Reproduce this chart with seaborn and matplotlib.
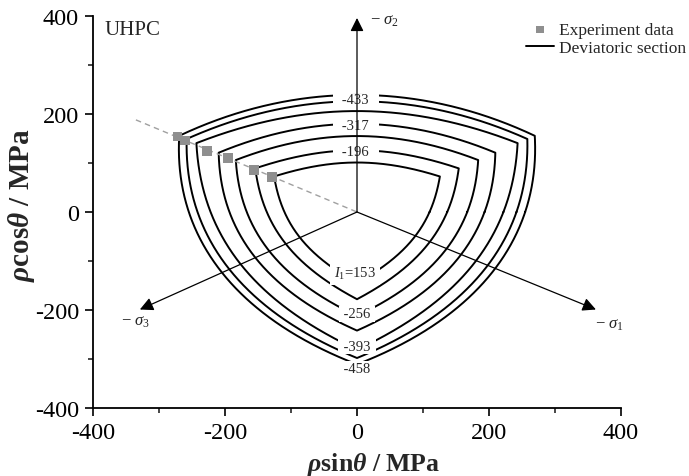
import numpy as np
import pandas as pd
import matplotlib
matplotlib.use("Agg")
import matplotlib.pyplot as plt
from matplotlib.ticker import MultipleLocator
import seaborn as sns

# ---- data ----
levels = [153, -196, -256, -317, -393, -433, -458]          # I1 of each section
r_tension = [101, 126, 155, 180, 206, 226, 239]            # radius on tension meridian
r_compression = [145, 178, 212, 242, 281, 298, 311]        # radius on compression meridian

exp_x = [-272, -261, -227, -195, -156, -129]
exp_y = [154, 146, 125, 110, 86, 72]

label_text = ["$\\mathit{I}_1$=153", "   -196   ", " -256 ", "   -317   ", " -393 ", "   -433   ", " -458 "]
label_x = [-3, -2, 0, -2, 0, -2, 0]
label_y = [-124, 123, -208, 177, -274, 229, -320]

xticks = [-400, -200, 0, 200, 400]
yticks = [-400, -200, 0, 200, 400]

axis_tips = {"$-\\ \\sigma_2$": (0, 396), "$-\\ \\sigma_3$": (-329, -199), "$-\\ \\sigma_1$": (362, -199)}
axis_label_pos = {"$-\\ \\sigma_2$": (42, 392), "$-\\ \\sigma_3$": (-336, -223), "$-\\ \\sigma_1$": (382, -228)}

# ---- style ----
sns.set_theme(style="ticks")
plt.rcParams["font.family"] = ["Liberation Serif", "DejaVu Serif"]
plt.rcParams["mathtext.fontset"] = "custom"
plt.rcParams["mathtext.rm"] = "Liberation Serif"
plt.rcParams["mathtext.it"] = "Liberation Serif:italic"
plt.rcParams["mathtext.bf"] = "Liberation Serif:bold"
plt.rcParams["mathtext.bfit"] = "Liberation Serif:bold:italic"


def section_radius(theta, rt, rc):
    # deviatoric trace with a max-principal-stress term: 1/rho = a + b cos(theta)
    b = 2.0 * (1.0 / rt - 1.0 / rc)
    a = 1.0 / rt - b
    return 1.0 / (a + b * np.cos(theta))


phi = np.deg2rad(np.linspace(0, 360, 1441))
lode = np.mod(np.rad2deg(phi) - 90, 120)
lode = np.deg2rad(np.where(lode > 60, 120 - lode, lode))

rows = []
for lev, rt, rc in zip(levels, r_tension, r_compression):
    r = section_radius(lode, rt, rc)
    for i, (xx, yy) in enumerate(zip(r * np.cos(phi), r * np.sin(phi))):
        rows.append((lev, i, xx, yy))
df = pd.DataFrame(rows, columns=["level", "order", "x", "y"])

fig = plt.figure(figsize=(6.89, 4.77), dpi=100)
ax = fig.add_axes([93 / 689, 1 - 409 / 477, 528 / 689, 392 / 477])

first = True
for lev in levels:
    sub = df[df["level"] == lev]
    sns.lineplot(data=sub, x="x", y="y", sort=False, estimator=None, errorbar=None, color="black",
                 lw=1.4, ax=ax, label="Deviatoric section" if first else "_nolegend_", zorder=2)
    first = False

# dashed compression meridian line
ax.plot([exp_x[0] - 63, 0], [exp_y[0] + 34, 0], ls=(0, (4, 3)), color="#a0a0a0", lw=1.0, zorder=2.5)

sns.scatterplot(x=exp_x, y=exp_y, marker="s", color="#8f8f8f", s=48, edgecolor="none",
                ax=ax, label="Experiment data", zorder=3)

for t, xx, yy in zip(label_text, label_x, label_y):
    pad = 0.3 if t.startswith("$") else (0.1 if yy < 0 else -0.08)
    ax.text(xx, yy, t, ha="center", va="center", fontsize=10.5, zorder=4,
            bbox=dict(facecolor="white", edgecolor="none", boxstyle=f"square,pad={pad}"))

for key, tip in axis_tips.items():
    ax.annotate("", xy=tip, xytext=(0, 0),
                arrowprops=dict(arrowstyle="-|>", color="black", lw=0.9, mutation_scale=20,
                                shrinkA=0, shrinkB=0), zorder=5)
    lx, ly = axis_label_pos[key]
    ax.text(lx, ly, key, ha="center", va="center", fontsize=12, zorder=5)

ax.text(-382, 373, "UHPC", ha="left", va="center", fontsize=15)

ax.set_xlim(-400, 400)
ax.set_ylim(-400, 400)
ax.set_xticks(xticks)
ax.set_yticks(yticks)
ax.set_xticklabels([str(v) for v in xticks])
ax.set_yticklabels([str(v) for v in yticks])
ax.xaxis.set_minor_locator(MultipleLocator(100))
ax.yaxis.set_minor_locator(MultipleLocator(100))
ax.tick_params(which="major", direction="out", length=6, width=1.2, labelsize=17.5, pad=4, colors="black")
ax.tick_params(which="minor", direction="out", length=3.5, width=1.2)
sns.despine(ax=ax)
for s in ["left", "bottom"]:
    ax.spines[s].set_linewidth(1.3)
    ax.spines[s].set_color("black")

ax.set_xlabel("$\\mathbfit{\\rho}\\mathbf{sin}\\mathbfit{\\theta}$ $\\mathbf{/\\ MPa}$", fontsize=18.5)
ax.set_ylabel("$\\mathbfit{\\rho}\\mathbf{cos}\\mathbfit{\\theta}$ $\\mathbf{/\\ MPa}$", fontsize=21)
ax.xaxis.set_label_coords(0.532, -0.108)
ax.yaxis.set_label_coords(-0.106, 0.52)

h, l = ax.get_legend_handles_labels()
order = [l.index("Experiment data"), l.index("Deviatoric section")]
ax.legend([h[i] for i in order], [l[i] for i in order], loc="upper left",
          bbox_to_anchor=(0.82, 0.985), frameon=False, fontsize=12.5, borderpad=0,
          borderaxespad=0, handlelength=1.6, handletextpad=0.3, labelspacing=0.12, markerscale=0.8)

fig.savefig("out.png", dpi=100)
